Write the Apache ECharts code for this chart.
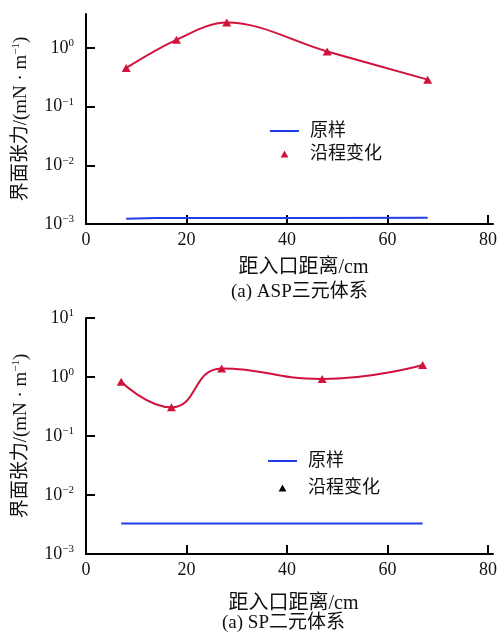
<!DOCTYPE html>
<html><head><meta charset="utf-8">
<script src="https://cdn.jsdelivr.net/npm/echarts@6/dist/echarts.min.js"></script>
<style>html,body{margin:0;padding:0;background:#fff}#c{width:500px;height:636px}</style>
</head><body><div id="c"></div>
<script>
// ---- data ----
const topX = [8, 18, 28, 48, 68];
const topIFT = [0.457, 1.38, 2.72, 0.875, 0.289];
const topOrigX = [8, 14, 44, 68];
const topOrig = [0.00123, 0.00126, 0.00127, 0.00128];
const botX = [7, 17, 27, 47, 67];
const botIFT = [0.83, 0.306, 1.40, 0.925, 1.6];
const botOrigX = [7, 67];
const botOrig = [0.0033, 0.0033];
const xTicks = [0, 20, 40, 60, 80];
const yTicksTop = [0.001, 0.01, 0.1, 1];
const yTicksBot = [0.001, 0.01, 0.1, 1, 10];
const seriesNames = ['原样', '沿程变化'];
const yName = '界面张力/(mN · m{sup|−1})';
const xName = '距入口距离/cm';
const captions = ['(a) ASP三元体系', '(a) SP二元体系'];

const RED = '#d0123c', BLUE = '#1f3fe6', TXT = '#111';
const SERIF = '"Liberation Serif","Noto Sans CJK SC",serif';
const pairs = (xs, ys) => xs.map((x, i) => [x, ys[i]]);
const tri = 'path://M5,0L10,9L0,9Z';
const dash = 'path://M0,0H29V2H0Z';

function yLabel(v) {
  const e = Math.round(Math.log10(v));
  return '{b|10}{s|' + (e < 0 ? '−' + (-e) : e) + '}';
}
const yRich = {
  b: {fontFamily: SERIF, fontSize: 18, color: TXT, lineHeight: 20},
  s: {fontFamily: SERIF, fontSize: 11, color: TXT, padding: [0, 0, 9, 0], lineHeight: 20}
};
function xAxis(gi, pad) {
  return {
    type: 'value', gridIndex: gi, min: 0, max: 81,
    name: xName, nameLocation: 'middle', nameGap: gi === 0 ? 34 : 40,
    nameTextStyle: {fontFamily: SERIF, fontSize: 20, color: TXT, padding: pad},
    axisLine: {lineStyle: {color: '#000', width: 2}},
    axisTick: {inside: true, length: 9, lineStyle: {color: '#000', width: 2}, customValues: xTicks},
    axisLabel: {fontFamily: SERIF, fontSize: 18, color: TXT, margin: 7, customValues: xTicks},
    splitLine: {show: false}
  };
}
function yAxis(gi, max, ticks) {
  return {
    type: 'log', gridIndex: gi, min: 0.001, max: max, logBase: 10,
    name: yName, nameLocation: 'middle', nameGap: 55,
    nameTextStyle: {fontFamily: SERIF, fontSize: 19, color: TXT,
      rich: {sup: {fontFamily: SERIF, fontSize: 11, color: TXT, padding: [0, 0, 9, 0]}}},
    axisLine: {lineStyle: {color: '#000', width: 2}},
    axisTick: {inside: true, length: 9, lineStyle: {color: '#000', width: 2}, customValues: ticks},
    axisLabel: {formatter: yLabel, rich: yRich, margin: 12, customValues: ticks},
    splitLine: {show: false}
  };
}
function legend(gi, left, top, gap, triColor) {
  return {
    left: left, top: top, orient: 'vertical', padding: 0, itemGap: gap,
    itemWidth: 29, itemHeight: 7, selectedMode: false,
    textStyle: {fontFamily: SERIF, fontSize: 18, color: TXT, lineHeight: 17, padding: [0, 0, 0, 6]},
    data: [
      {name: seriesNames[0], icon: dash, itemStyle: {color: BLUE}},
      {name: seriesNames[1], icon: tri, itemStyle: {color: triColor}}
    ]
  };
}
function lineSeries(gi, data, smooth) {
  return [
    {name: seriesNames[0], type: 'line', xAxisIndex: gi, yAxisIndex: gi, data: data[0],
     symbol: 'none', lineStyle: {color: BLUE, width: 2}, itemStyle: {color: BLUE}},
    {name: seriesNames[1], type: 'line', xAxisIndex: gi, yAxisIndex: gi, data: data[1],
     smooth: smooth, symbol: 'triangle', symbolSize: [9, 8],
     lineStyle: {color: RED, width: 2}, itemStyle: {color: RED}}
  ];
}

const chart = echarts.init(document.getElementById('c'), null, {renderer: 'canvas'});
chart.setOption({
  backgroundColor: '#fff',
  animation: false,
  grid: [
    {left: 86, top: 14, width: 407, height: 210},
    {left: 86, top: 318, width: 407, height: 236}
  ],
  title: [
    {text: captions[0], left: 231, top: 283, padding: 0,
     textStyle: {fontFamily: SERIF, fontSize: 19, fontWeight: 'normal', color: TXT}},
    {text: captions[1], left: 222, top: 614, padding: 0,
     textStyle: {fontFamily: SERIF, fontSize: 19, fontWeight: 'normal', color: TXT}}
  ],
  legend: [legend(0, 270, 122, 5, RED), legend(1, 268, 452, 9, '#000')],
  xAxis: [xAxis(0, [0, 0, 0, 28]), xAxis(1, [0, 0, 0, 8])],
  yAxis: [yAxis(0, 3.8, yTicksTop), yAxis(1, 10, yTicksBot)],
  series: [
    ...lineSeries(0, [pairs(topOrigX, topOrig), pairs(topX, topIFT)], 0.35),
    ...lineSeries(1, [pairs(botOrigX, botOrig), pairs(botX, botIFT)], 0.5)
  ]
});
</script></body></html>
